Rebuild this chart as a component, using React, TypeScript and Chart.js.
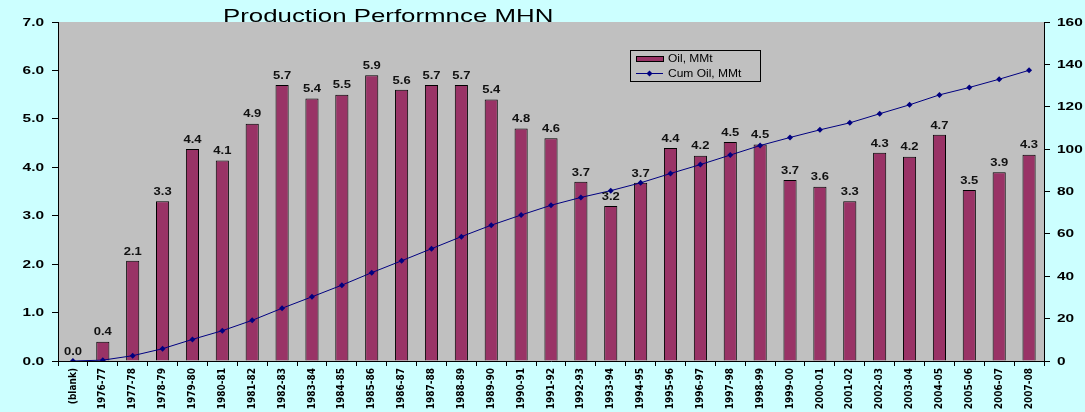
import React, { useEffect, useRef } from "react";
import { Chart, registerables } from "chart.js";

Chart.register(...registerables);

const categories = [
  "(blank)", "1976-77", "1977-78", "1978-79", "1979-80", "1980-81", "1981-82", "1982-83",
  "1983-84", "1984-85", "1985-86", "1986-87", "1987-88", "1988-89", "1989-90", "1990-91",
  "1991-92", "1992-93", "1993-94", "1994-95", "1995-96", "1996-97", "1997-98", "1998-99",
  "1999-00", "2000-01", "2001-02", "2002-03", "2003-04", "2004-05", "2005-06", "2006-07", "2007-08",
];

const oilValues = [
  0.0, 0.4, 2.07, 3.3, 4.38, 4.14, 4.9, 5.7, 5.42, 5.5, 5.9, 5.6, 5.7, 5.7, 5.4, 4.8,
  4.6, 3.7, 3.2, 3.68, 4.4, 4.24, 4.52, 4.47, 3.74, 3.6, 3.3, 4.3, 4.22, 4.67, 3.53, 3.9, 4.26,
];

const cumOilValues = [
  0, 0.4, 2.5, 5.8, 10.2, 14.3, 19.2, 24.9, 30.3, 35.8, 41.7, 47.3, 53.0, 58.7, 64.1, 68.9,
  73.5, 77.2, 80.4, 84.1, 88.5, 92.7, 97.2, 101.7, 105.5, 109.1, 112.4, 116.7, 120.9, 125.6, 129.1, 133.0, 137.2,
];

const titleText = "Production Performnce MHN";
const oilLabel = "Oil, MMt";
const cumLabel = "Cum Oil, MMt";

const W = 1085;
const H = 412;
const FONT = "'Liberation Sans', Arial, sans-serif";

function stretchedText(ctx: CanvasRenderingContext2D, text: string, x: number, y: number, sx: number, align: CanvasTextAlign) {
  ctx.save();
  ctx.translate(x, y);
  ctx.scale(sx, 1);
  ctx.textAlign = align;
  ctx.fillText(text, 0, 0);
  ctx.restore();
}

export default function App() {
  const ref = useRef<HTMLCanvasElement | null>(null);

  useEffect(() => {
    const canvas = ref.current;
    if (!canvas) return;

    const bgPlugin = {
      id: "bgPlugin",
      beforeDraw(chart: any) {
        const { ctx, chartArea } = chart;
        ctx.save();
        ctx.fillStyle = "#CCFFFF";
        ctx.fillRect(0, 0, chart.width, chart.height);
        ctx.fillStyle = "#C0C0C0";
        ctx.fillRect(chartArea.left, chartArea.top, chartArea.right - chartArea.left, chartArea.bottom - chartArea.top);
        ctx.restore();
      },
    };

    const labelsPlugin = {
      id: "labelsPlugin",
      afterDatasetsDraw(chart: any) {
        const { ctx } = chart;
        const meta = chart.getDatasetMeta(0);
        ctx.save();
        ctx.font = `bold 10px ${FONT}`;
        ctx.fillStyle = "#111";
        ctx.textBaseline = "bottom";
        meta.data.forEach((bar: any, i: number) => {
          stretchedText(ctx, oilValues[i].toFixed(1), bar.x, bar.y - 4, 1.3, "center");
        });
        ctx.restore();
      },
      afterDraw(chart: any) {
        const { ctx } = chart;
        ctx.save();
        // axis tick labels (values from the chart's own scales)
        ctx.fillStyle = "#000";
        ctx.font = `bold 11px ${FONT}`;
        ctx.textBaseline = "middle";
        const yl = chart.scales.y;
        yl.ticks.forEach((t: any, i: number) => {
          stretchedText(ctx, Number(t.value).toFixed(1), 44, yl.getPixelForTick(i) + 0.5, 1.4, "right");
        });
        const yr = chart.scales.y1;
        yr.ticks.forEach((t: any, i: number) => {
          stretchedText(ctx, String(t.value), 1057, yr.getPixelForTick(i) + 0.5, 1.4, "left");
        });
        // title
        ctx.font = `19px ${FONT}`;
        ctx.textBaseline = "alphabetic";
        stretchedText(ctx, titleText, 223, 21.5, 1.36, "left");
        // legend
        const lx = 630, ly = 50, lw = 130, lh = 31;
        ctx.fillStyle = "#C0C0C0";
        ctx.fillRect(lx, ly, lw, lh);
        ctx.strokeStyle = "#000";
        ctx.lineWidth = 1;
        ctx.strokeRect(lx + 0.5, ly + 0.5, lw, lh);
        ctx.fillStyle = "#993366";
        ctx.fillRect(636, 56, 27, 5);
        ctx.strokeRect(636.5, 56.5, 27, 5);
        ctx.strokeStyle = "#000080";
        ctx.beginPath();
        ctx.moveTo(636, 73.5);
        ctx.lineTo(663, 73.5);
        ctx.stroke();
        ctx.fillStyle = "#000080";
        ctx.beginPath();
        ctx.moveTo(649.5, 70.5);
        ctx.lineTo(652.5, 73.5);
        ctx.lineTo(649.5, 76.5);
        ctx.lineTo(646.5, 73.5);
        ctx.closePath();
        ctx.fill();
        ctx.fillStyle = "#000";
        ctx.font = `10px ${FONT}`;
        ctx.textBaseline = "middle";
        stretchedText(ctx, oilLabel, 668, 59, 1.2, "left");
        stretchedText(ctx, cumLabel, 668, 74, 1.2, "left");
        ctx.restore();
      },
    };

    const chart = new Chart(canvas, {
      type: "bar",
      data: {
        labels: categories,
        datasets: [
          {
            type: "bar",
            label: oilLabel,
            data: oilValues,
            backgroundColor: "#993366",
            borderColor: "#000",
            borderWidth: 1,
            barPercentage: 0.44,
            categoryPercentage: 1,
            yAxisID: "y",
            order: 1,
          },
          {
            type: "line",
            label: cumLabel,
            data: cumOilValues,
            borderColor: "#000080",
            backgroundColor: "#000080",
            borderWidth: 1,
            pointStyle: "rectRot",
            pointRadius: 3,
            pointBorderWidth: 0,
            tension: 0,
            yAxisID: "y1",
            order: 0,
          } as any,
        ],
      },
      options: {
        responsive: false,
        animation: false,
        layout: { padding: { top: 22, left: 0, right: 0, bottom: 0 } },
        plugins: {
          legend: { display: false },
          title: { display: false },
          tooltip: { enabled: false },
        },
        scales: {
          x: {
            grid: {
              offset: true,
              drawOnChartArea: false,
              drawTicks: true,
              tickLength: 5,
              color: "#000",
            },
            border: { color: "#000", width: 1 },
            ticks: {
              autoSkip: false,
              minRotation: 90,
              maxRotation: 90,
              padding: 2,
              color: "#000",
              font: { family: "'Liberation Sans Narrow', 'DejaVu Sans Condensed', Arial, sans-serif", size: 10, weight: "bold" },
            },
            afterFit(scale: any) {
              scale.height = 51;
            },
          },
          y: {
            position: "left",
            min: 0,
            max: 7,
            ticks: { stepSize: 1, display: false },
            grid: { drawOnChartArea: false, drawTicks: true, tickLength: 6, color: "#000" },
            border: { color: "#000", width: 1 },
            afterFit(scale: any) {
              scale.width = 58;
            },
          },
          y1: {
            position: "right",
            min: 0,
            max: 160,
            ticks: { stepSize: 20, display: false },
            grid: { drawOnChartArea: false, drawTicks: true, tickLength: 6, color: "#000" },
            border: { color: "#000", width: 1 },
            afterFit(scale: any) {
              scale.width = 41;
            },
          },
        },
      } as any,
      plugins: [bgPlugin, labelsPlugin],
    });

    return () => chart.destroy();
  }, []);

  return (
    <div style={{ position: "absolute", left: 0, top: 0, width: W, height: H, background: "#CCFFFF" }}>
      <canvas ref={ref} width={W} height={H} style={{ display: "block", width: W, height: H }} />
    </div>
  );
}
